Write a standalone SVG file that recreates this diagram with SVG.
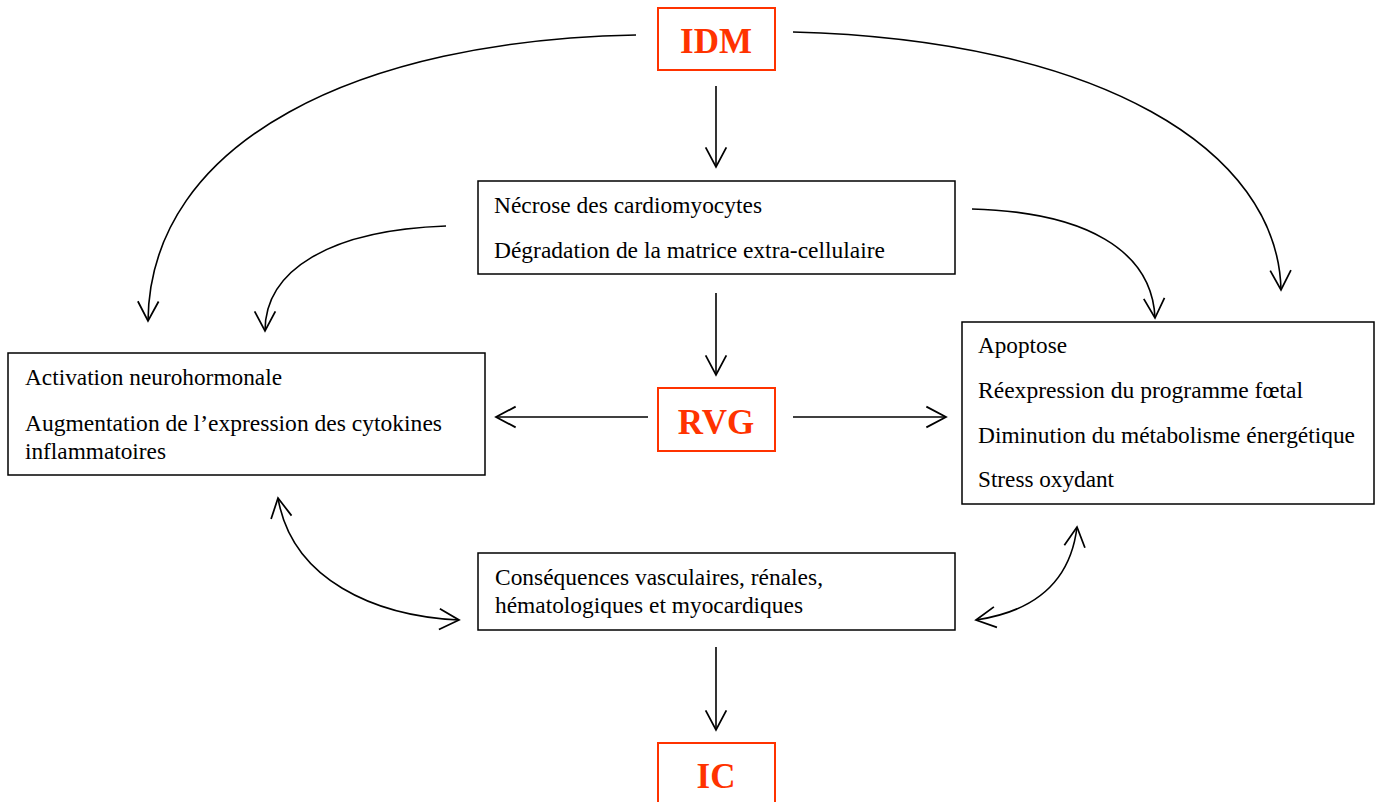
<svg xmlns="http://www.w3.org/2000/svg" width="1382" height="802" viewBox="0 0 1382 802">
<style>
.box{fill:#fff;stroke:#000;stroke-width:1.5}
.rbox{fill:#fff;stroke:#ff3300;stroke-width:2}
.t{font-family:"Liberation Serif","Times New Roman",serif;font-size:23px;fill:#000}
.r{font-family:"Liberation Serif","Times New Roman",serif;font-size:35px;font-weight:bold;fill:#ff3300;text-anchor:middle}
.c{fill:none;stroke:#000;stroke-width:1.6}
</style>
<defs>
<marker id="ah" markerUnits="userSpaceOnUse" markerWidth="24" markerHeight="24" viewBox="-20 -11 22 22" refX="0" refY="0" orient="auto-start-reverse">
<path d="M-18,-9.5 L0,0 L-18,9.5" fill="none" stroke="#000" stroke-width="1.6"/>
</marker>
</defs>
<rect width="1382" height="802" fill="#fff"/>
<g id="connectors">
<path class="c" d="M636,35 C360,40 150,140 148,321" marker-end="url(#ah)"/>
<path class="c" d="M793,32 C1100,40 1278,150 1281,290" marker-end="url(#ah)"/>
<path class="c" d="M446,226 C330,230 265,270 265,331" marker-end="url(#ah)"/>
<path class="c" d="M972,209 C1085,212 1152,250 1155,318" marker-end="url(#ah)"/>
<path class="c" d="M716,86 L716,167" marker-end="url(#ah)"/>
<path class="c" d="M716,293 L716,375" marker-end="url(#ah)"/>
<path class="c" d="M648,417 L496,417" marker-end="url(#ah)"/>
<path class="c" d="M793,417 L946,417" marker-end="url(#ah)"/>
<path class="c" d="M716,647 L716,730" marker-end="url(#ah)"/>
<path class="c" d="M278,498 C292,580 375,616 459,620" marker-start="url(#ah)" marker-end="url(#ah)"/>
<path class="c" d="M1077,527 C1070,585 1030,612 976,620" marker-start="url(#ah)" marker-end="url(#ah)"/>
</g>
<g id="idm">
<rect class="rbox" x="658" y="8" width="117" height="62"/>
<text class="r" x="716" y="53">IDM</text>
</g>
<g id="necrose">
<rect class="box" x="478" y="181" width="477" height="93"/>
<text class="t" x="494" y="213" textLength="268" lengthAdjust="spacingAndGlyphs">Nécrose des cardiomyocytes</text>
<text class="t" x="494" y="258" textLength="391" lengthAdjust="spacingAndGlyphs">Dégradation de la matrice extra-cellulaire</text>
</g>
<g id="rvg">
<rect class="rbox" x="658" y="388" width="117" height="63"/>
<text class="r" x="716" y="434">RVG</text>
</g>
<g id="activation">
<rect class="box" x="8" y="353" width="477" height="122"/>
<text class="t" x="25" y="385" textLength="257" lengthAdjust="spacingAndGlyphs">Activation neurohormonale</text>
<text class="t" x="25" y="431" textLength="417" lengthAdjust="spacingAndGlyphs">Augmentation de l’expression des cytokines</text>
<text class="t" x="25" y="459" textLength="141" lengthAdjust="spacingAndGlyphs">inflammatoires</text>
</g>
<g id="apoptose">
<rect class="box" x="962" y="322" width="412" height="182"/>
<text class="t" x="978" y="353" textLength="89" lengthAdjust="spacingAndGlyphs">Apoptose</text>
<text class="t" x="978" y="398" textLength="325" lengthAdjust="spacingAndGlyphs">Réexpression du programme fœtal</text>
<text class="t" x="978" y="443" textLength="377" lengthAdjust="spacingAndGlyphs">Diminution du métabolisme énergétique</text>
<text class="t" x="978" y="487" textLength="136" lengthAdjust="spacingAndGlyphs">Stress oxydant</text>
</g>
<g id="consequences">
<rect class="box" x="478" y="553" width="477" height="77"/>
<text class="t" x="495" y="585" textLength="328" lengthAdjust="spacingAndGlyphs">Conséquences vasculaires, rénales,</text>
<text class="t" x="495" y="613" textLength="308" lengthAdjust="spacingAndGlyphs">hématologiques et myocardiques</text>
</g>
<g id="ic">
<rect class="rbox" x="658" y="743" width="117" height="70"/>
<text class="r" x="716" y="788">IC</text>
</g>
</svg>
